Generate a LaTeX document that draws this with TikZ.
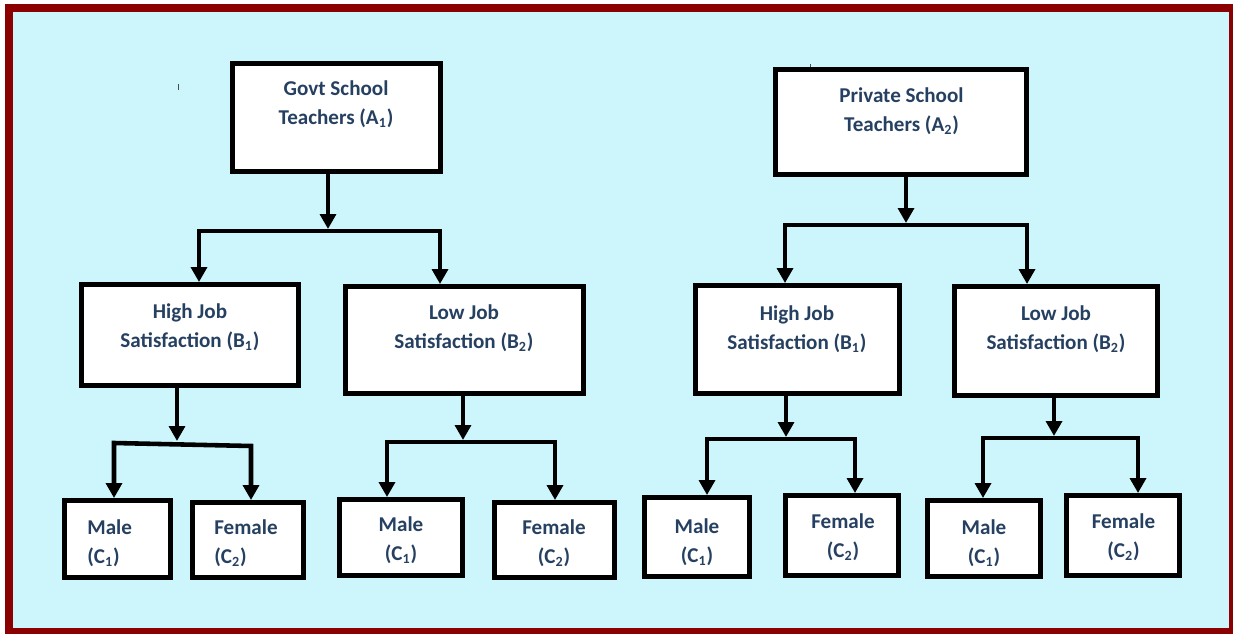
\documentclass[tikz,border=0pt]{standalone}
\usepackage{fontspec}
\setmainfont{Carlito}
\usetikzlibrary{arrows.meta}
\definecolor{bgcyan}{RGB}{204,246,252}
\definecolor{framered}{RGB}{139,0,0}
\definecolor{txtblue}{RGB}{38,64,97}
\tikzset{
  box/.style={draw=black, fill=white, line width=2.8pt, inner sep=0pt},
  lbl/.style={font=\fontsize{12}{16.5}\selectfont\bfseries, text=txtblue, align=center, inner sep=0pt},
  lbll/.style={lbl, align=left, anchor=west},
  conn/.style={line width=2.6pt, line join=miter, -{Triangle[length=8.5pt,width=9pt]}},
  fork/.style={line width=2.6pt, line join=miter, {Triangle[length=8.5pt,width=9pt]}-{Triangle[length=8.5pt,width=9pt]}},
}
\newcommand\mkbox[5]{\node[box, minimum width={(#4-#2-5)*0.02cm}, minimum height={(#5-#3-5)*0.02cm}] (#1) at ({(#2+#4)/2},{(#3+#5)/2}) {};}
\begin{document}
\begin{tikzpicture}[x=0.02cm,y=-0.02cm]
\useasboundingbox (0,0) rectangle (1233,634);
\path[fill=bgcyan, draw=framered, line width=4.54pt] (9,8) rectangle (1233,632);
% stray marks
\draw[black!70, line width=0.5pt] (178,84) -- (178,90);
\draw[black!70, line width=0.5pt] (810,64) -- (810,67);
% boxes
\mkbox{A1}{230}{61}{443}{174}
\mkbox{A2}{773}{67}{1029}{177}
\mkbox{gB1}{79}{282}{301}{388}
\mkbox{gB2}{343}{284}{586}{396}
\mkbox{pB1}{693}{283}{902}{396}
\mkbox{pB2}{952}{284}{1160}{398}
\mkbox{gM1}{62}{498}{173}{580}
\mkbox{gF1}{190}{500}{306}{580}
\mkbox{gM2}{337}{497}{465}{578}
\mkbox{gF2}{492}{500}{617}{580}
\mkbox{pM1}{642}{495}{752}{579}
\mkbox{pF1}{783}{493}{901}{578}
\mkbox{pM2}{925}{498}{1043}{579}
\mkbox{pF2}{1064}{493}{1182}{578}
% texts
\node[lbl] (tA1) at (336,104.5) {Govt School\\Teachers (A\textsubscript{1})};
\node[lbl] (tA2) at (901.5,111.5) {Private School\\Teachers (A\textsubscript{2})};
\node[lbl] (tgB1) at (190,327.5) {High Job\\Satisfaction (B\textsubscript{1})};
\node[lbl] (tgB2) at (464,328) {Low Job\\Satisfaction (B\textsubscript{2})};
\node[lbl] (tpB1) at (797,329) {High Job\\Satisfaction (B\textsubscript{1})};
\node[lbl] (tpB2) at (1056,329) {Low Job\\Satisfaction (B\textsubscript{2})};
\node[lbll] (tgM1) at (87,543) {Male\\(C\textsubscript{1})};
\node[lbll] (tgF1) at (214,543) {Female\\(C\textsubscript{2})};
\node[lbl] (tgM2) at (401,540.5) {Male\\(C\textsubscript{1})};
\node[lbl] (tgF2) at (554,543) {Female\\(C\textsubscript{2})};
\node[lbl] (tpM1) at (697,542) {Male\\(C\textsubscript{1})};
\node[lbl] (tpF1) at (843,537.5) {Female\\(C\textsubscript{2})};
\node[lbl] (tpM2) at (984,543) {Male\\(C\textsubscript{1})};
\node[lbl] (tpF2) at (1123.5,537.5) {Female\\(C\textsubscript{2})};
% junction coordinates
\coordinate (gAm) at (328,229);
\coordinate (gAl) at (199,231);
\coordinate (gAr) at (440,231);
\coordinate (pAm) at (906,223);
\coordinate (pAl) at (785,225);
\coordinate (pAr) at (1027,225);
\coordinate (g1m) at (177,441);
\coordinate (g1l) at (114,443);
\coordinate (g1r) at (251,446);
\coordinate (g2m) at (463,440);
\coordinate (g2l) at (387,442);
\coordinate (g2r) at (555,442);
\coordinate (p1m) at (786,437);
\coordinate (p1l) at (707,439);
\coordinate (p1r) at (855,439);
\coordinate (p2m) at (1054,436);
\coordinate (p2l) at (983,438);
\coordinate (p2r) at (1138,438);
% connectors
\draw[conn] (gAm |- A1.south) -- (gAm);
\draw[fork] (gAl |- gB1.north) -- (gAl) -- (gAr) -- (gAr |- gB2.north);
\draw[conn] (pAm |- A2.south) -- (pAm);
\draw[fork] (pAl |- pB1.north) -- (pAl) -- (pAr) -- (pAr |- pB2.north);
\draw[conn] (g1m |- gB1.south) -- (g1m);
\draw[fork] (g1l |- gM1.north) -- (g1l) -- (g1r) -- (g1r |- gF1.north);
\draw[conn] (g2m |- gB2.south) -- (g2m);
\draw[fork] (g2l |- gM2.north) -- (g2l) -- (g2r) -- (g2r |- gF2.north);
\draw[conn] (p1m |- pB1.south) -- (p1m);
\draw[fork] (p1l |- pM1.north) -- (p1l) -- (p1r) -- (p1r |- pF1.north);
\draw[conn] (p2m |- pB2.south) -- (p2m);
\draw[fork] (p2l |- pM2.north) -- (p2l) -- (p2r) -- (p2r |- pF2.north);
\end{tikzpicture}
\end{document}
